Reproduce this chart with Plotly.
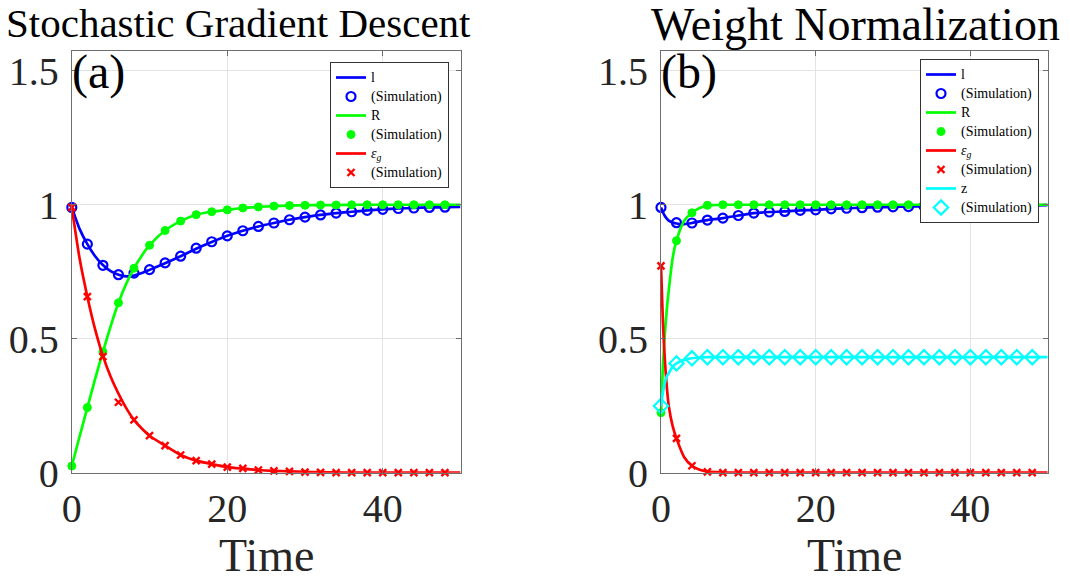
import plotly.graph_objects as go

# ---------------- data: (a) Stochastic Gradient Descent ----------------
t_sim = list(range(0, 50, 2))

sgd_l_sim = [0.990, 0.853, 0.774, 0.739, 0.745, 0.758, 0.783, 0.808, 0.838, 0.862,
             0.884, 0.903, 0.919, 0.932, 0.944, 0.954, 0.962, 0.969, 0.974, 0.979,
             0.983, 0.986, 0.988, 0.990, 0.991]
sgd_R_sim = [0.025, 0.243, 0.451, 0.634, 0.763, 0.849, 0.904, 0.939, 0.963, 0.974,
             0.981, 0.988, 0.992, 0.995, 0.997, 0.998, 0.999, 0.999, 1.0, 1.0,
             1.0, 1.0, 1.0, 1.0, 1.0]
sgd_e_sim = [0.990, 0.657, 0.433, 0.263, 0.197, 0.138, 0.101, 0.066, 0.045, 0.032,
             0.021, 0.016, 0.010, 0.007, 0.005, 0.002, 0.001, 0.0, 0.0, 0.0,
             0.0, 0.0, 0.0, 0.0, 0.0]

sgd_t_line = [0, 1, 2, 3, 4, 5, 6, 7, 8, 9, 10, 12, 14, 16, 18, 20, 22, 24, 26, 28,
              30, 32, 34, 36, 38, 40, 42, 44, 46, 48, 50]
sgd_l_line = [0.990, 0.910, 0.853, 0.808, 0.775, 0.752, 0.739, 0.733, 0.736, 0.745,
              0.757, 0.782, 0.808, 0.836, 0.861, 0.884, 0.903, 0.919, 0.932, 0.944,
              0.954, 0.962, 0.969, 0.974, 0.979, 0.983, 0.986, 0.988, 0.990, 0.991, 0.992]
sgd_R_line = [0.025, 0.135, 0.243, 0.350, 0.451, 0.547, 0.634, 0.705, 0.763, 0.810,
              0.849, 0.904, 0.939, 0.963, 0.974, 0.981, 0.988, 0.992, 0.995, 0.997,
              0.998, 0.999, 0.999, 1.0, 1.0, 1.0, 1.0, 1.0, 1.0, 1.0, 1.0]
sgd_e_line = [0.990, 0.800, 0.657, 0.535, 0.436, 0.358, 0.295, 0.241, 0.197, 0.165,
              0.138, 0.101, 0.066, 0.045, 0.032, 0.021, 0.015, 0.010, 0.007, 0.005,
              0.003, 0.002, 0.001, 0.0, 0.0, 0.0, 0.0, 0.0, 0.0, 0.0, 0.0]

# ---------------- data: (b) Weight Normalization ----------------
wn_l_sim = [0.990, 0.933, 0.932, 0.943, 0.950, 0.960, 0.969, 0.973, 0.975, 0.979,
            0.981, 0.985, 0.987, 0.989, 0.991, 0.992, 0.993, 0.994, 0.995, 0.996,
            0.997, 0.997, 0.998, 0.998, 0.998]
wn_R_sim = [0.224, 0.866, 0.970, 0.998, 1.0, 1.0, 1.0, 1.0, 1.0, 1.0,
            1.0, 1.0, 1.0, 1.0, 1.0, 1.0, 1.0, 1.0, 1.0, 1.0,
            1.0, 1.0, 1.0, 1.0, 1.0]
wn_e_sim = [0.772, 0.128, 0.026, 0.003, 0.0, 0.0, 0.0, 0.0, 0.0, 0.0,
            0.0, 0.0, 0.0, 0.0, 0.0, 0.0, 0.0, 0.0, 0.0, 0.0,
            0.0, 0.0, 0.0, 0.0, 0.0]
wn_z_sim = [0.249, 0.408, 0.427, 0.431, 0.431, 0.431, 0.431, 0.431, 0.431, 0.431,
            0.431, 0.431, 0.431, 0.431, 0.431, 0.431, 0.431, 0.431, 0.431, 0.431,
            0.431, 0.431, 0.431, 0.431, 0.431]

wn_t_line = [0, 0.25, 0.5, 0.75, 1, 1.5, 2, 3, 4, 5, 6, 8, 10, 12, 14, 16, 18, 20,
             22, 24, 26, 28, 30, 32, 34, 36, 38, 40, 42, 44, 46, 48, 50]
wn_l_line = [0.990, 0.972, 0.958, 0.948, 0.941, 0.934, 0.930, 0.928, 0.932, 0.938,
             0.943, 0.950, 0.960, 0.969, 0.973, 0.975, 0.979, 0.981, 0.985, 0.987,
             0.989, 0.991, 0.992, 0.993, 0.994, 0.995, 0.996, 0.997, 0.997, 0.998,
             0.998, 0.998, 0.999]
wn_R_line = [0.224, 0.400, 0.520, 0.610, 0.680, 0.800, 0.866, 0.940, 0.970, 0.988,
             0.997, 1.0, 1.0, 1.0, 1.0, 1.0, 1.0, 1.0, 1.0, 1.0,
             1.0, 1.0, 1.0, 1.0, 1.0, 1.0, 1.0, 1.0, 1.0, 1.0,
             1.0, 1.0, 1.0]
wn_e_line = [0.772, 0.560, 0.420, 0.320, 0.250, 0.175, 0.128, 0.058, 0.026, 0.011,
             0.004, 0.001, 0.0, 0.0, 0.0, 0.0, 0.0, 0.0, 0.0, 0.0,
             0.0, 0.0, 0.0, 0.0, 0.0, 0.0, 0.0, 0.0, 0.0, 0.0,
             0.0, 0.0, 0.0]
wn_z_line = [0.249, 0.300, 0.336, 0.360, 0.372, 0.395, 0.408, 0.421, 0.427, 0.430,
             0.431, 0.431, 0.431, 0.431, 0.431, 0.431, 0.431, 0.431, 0.431, 0.431,
             0.431, 0.431, 0.431, 0.431, 0.431, 0.431, 0.431, 0.431, 0.431, 0.431,
             0.431, 0.431, 0.431]

x_ticks = [0, 20, 40]
y_ticks = [0, 0.5, 1, 1.5]
y_ticktext = ["0", "0.5", "1", "1.5"]
titles = ["Stochastic Gradient Descent", "Weight Normalization"]
panel_tags = ["(a)", "(b)"]
x_label = "Time"
LEG_SPAN = "<span style='font-size:14px;font-family:Liberation Serif'>{}</span>"
name_l = LEG_SPAN.format("l")
name_R = LEG_SPAN.format("R")
name_z = LEG_SPAN.format("z")
name_eps = LEG_SPAN.format("<i>ε<sub>g</sub></i>")
name_sim = LEG_SPAN.format("(Simulation)")

BLUE, GREEN, RED, CYAN = "#0000ff", "#00ff00", "#ff0000", "#00ffff"
FONT = "Liberation Serif"
W, H = 1070, 583
LW = 2.7

fig = go.Figure()


def add_line(t, y, color, name, xa, ya, lg):
    fig.add_trace(go.Scatter(x=t, y=y, mode="lines", name=name,
                             line=dict(color=color, width=LW, shape="spline", smoothing=0.6),
                             xaxis=xa, yaxis=ya, legend=lg))


def add_pts(t, y, color, symbol, size, xa, ya, lg, lw=2.2):
    marker = dict(symbol=symbol, size=size, color=color,
                  line=dict(color=color, width=lw))
    fig.add_trace(go.Scatter(x=t, y=y, mode="markers", name=name_sim, marker=marker,
                             cliponaxis=False, xaxis=xa, yaxis=ya, legend=lg))


# panel (a)
add_line(sgd_t_line, sgd_l_line, BLUE, name_l, "x", "y", "legend")
add_pts(t_sim, sgd_l_sim, BLUE, "circle-open", 9, "x", "y", "legend")
add_line(sgd_t_line, sgd_R_line, GREEN, name_R, "x", "y", "legend")
add_pts(t_sim, sgd_R_sim, GREEN, "circle", 8, "x", "y", "legend", lw=1)
add_line(sgd_t_line, sgd_e_line, RED, name_eps, "x", "y", "legend")
add_pts(t_sim, sgd_e_sim, RED, "x-thin", 7, "x", "y", "legend", lw=2.4)

# panel (b)
add_line(wn_t_line, wn_l_line, BLUE, name_l, "x2", "y2", "legend2")
add_pts(t_sim, wn_l_sim, BLUE, "circle-open", 9, "x2", "y2", "legend2")
add_line(wn_t_line, wn_R_line, GREEN, name_R, "x2", "y2", "legend2")
add_pts(t_sim, wn_R_sim, GREEN, "circle", 8, "x2", "y2", "legend2", lw=1)
add_line(wn_t_line, wn_e_line, RED, name_eps, "x2", "y2", "legend2")
add_pts(t_sim, wn_e_sim, RED, "x-thin", 7, "x2", "y2", "legend2", lw=2.4)
add_line(wn_t_line, wn_z_line, CYAN, name_z, "x2", "y2", "legend2")
add_pts(t_sim, wn_z_sim, CYAN, "diamond-open", 11, "x2", "y2", "legend2")

# geometry (pixels)
ax_left = [71.8, 661.0]
ax_right = [460.5, 1047.7]
y_top, y_bot = 50.7, 472.7
ydom = [1 - y_bot / H, 1 - y_top / H]

axis_common = dict(showline=True, linecolor="#6e6e6e", linewidth=1, mirror="ticks",
                   ticks="inside", ticklen=5, tickcolor="#6e6e6e", showgrid=True,
                   gridcolor="#e3e3e3", gridwidth=1, zeroline=False, automargin=False,
                   tickfont=dict(family=FONT, size=40, color="#262626"))

for i, (xn, yn) in enumerate([("xaxis", "yaxis"), ("xaxis2", "yaxis2")]):
    fig.layout[xn] = dict(axis_common, domain=[ax_left[i] / W, ax_right[i] / W],
                          range=[0, 50], tickvals=x_ticks, anchor="y" if i == 0 else "y2",
                          ticklabelstandoff=0)
    fig.layout[yn] = dict(axis_common, domain=ydom, range=[0, 1.575],
                          tickvals=y_ticks, ticktext=y_ticktext,
                          anchor="x" if i == 0 else "x2", ticklabelstandoff=4)

annotations = []
title_cx = [238.5, 855]
title_size = [41, 46]
title_cy = [23, 25]
for i in range(2):
    annotations.append(dict(text=titles[i], xref="paper", yref="paper",
                            x=title_cx[i] / W, y=1 - title_cy[i] / H, xanchor="center",
                            yanchor="middle", showarrow=False,
                            font=dict(family=FONT, size=title_size[i], color="black")))
    annotations.append(dict(text=x_label, xref="paper", yref="paper",
                            x=(ax_left[i] + ax_right[i]) / 2 / W, y=1 - 555 / H,
                            xanchor="center", yanchor="middle", showarrow=False,
                            font=dict(family=FONT, size=46, color="#262626")))
    annotations.append(dict(text=panel_tags[i], xref="paper", yref="paper",
                            x=(ax_left[i] - 2) / W, y=1 - 72 / H,
                            xanchor="left", yanchor="middle", showarrow=False,
                            font=dict(family=FONT, size=48, color="black")))

legend_common = dict(font=dict(family=FONT, size=11, color="black"),
                     bgcolor="white", bordercolor="#333333", borderwidth=1,
                     xanchor="right", yanchor="top", tracegroupgap=0,
                     itemclick=False, itemdoubleclick=False)

fig.update_layout(
    width=W, height=H, margin=dict(l=0, r=0, t=0, b=0),
    paper_bgcolor="white", plot_bgcolor="white",
    showlegend=True,
    legend=dict(legend_common, x=449 / W, y=1 - 62 / H),
    legend2=dict(legend_common, x=1039 / W, y=1 - 59 / H),
    annotations=annotations,
)

fig.write_html("out.html")
